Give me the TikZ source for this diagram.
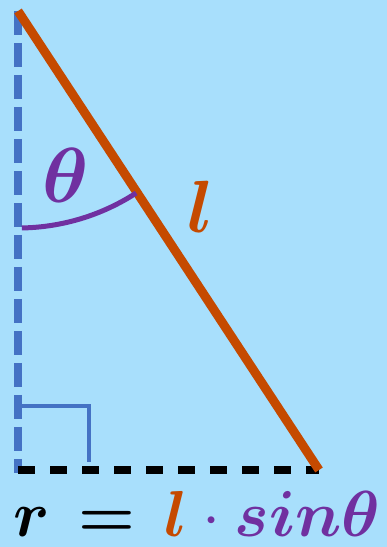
\RequirePackage{fix-cm}
\documentclass[tikz,border=0pt]{standalone}
\usepackage{bm}
\definecolor{bg}{RGB}{168,223,252}
\definecolor{rodorange}{RGB}{197,74,0}
\definecolor{anglepurple}{RGB}{112,48,160}
\definecolor{axisblue}{RGB}{68,114,196}
\begin{document}
\begin{tikzpicture}[x=1pt,y=1pt]
 \fill[bg] (0,0) rectangle (387,547);
 \useasboundingbox (0,0) rectangle (387,547);
 \coordinate (top) at (18,536);
 \coordinate (corner) at (18,77);
 \coordinate (foot) at (319,77);
 \draw[axisblue, line width=7.5pt, dash pattern=on 24pt off 8pt] (top) -- (18,74);
 \draw[line width=8pt, dash pattern=on 17pt off 15pt] (corner) -- (foot);
 \draw[axisblue, line width=4.5pt] (18,141) -- (89,141) -- (89,85);
 \draw[rodorange, line width=9pt] (top) -- (foot);
 \draw[anglepurple, line width=5pt] (top) ++(-89:217) arc[start angle=-89, end angle=-57, radius=217];
 \node[anglepurple, font=\fontsize{78}{80}\selectfont] (theta) at (66,372) {$\bm{\theta}$};
 \node[rodorange, font=\fontsize{74}{76}\selectfont] (len) at (201,340) {$\bm{l}$};
 \node[anchor=base, inner sep=0pt, font=\fontsize{65}{66}\selectfont] (formula) at (197,10)
  {$\bm{r}\,\bm{=}\,\textcolor{rodorange}{\bm{l}}\mathbin{\color{anglepurple}\cdot}\textcolor{anglepurple}{\bm{sin\theta}}$};
\end{tikzpicture}
\end{document}
